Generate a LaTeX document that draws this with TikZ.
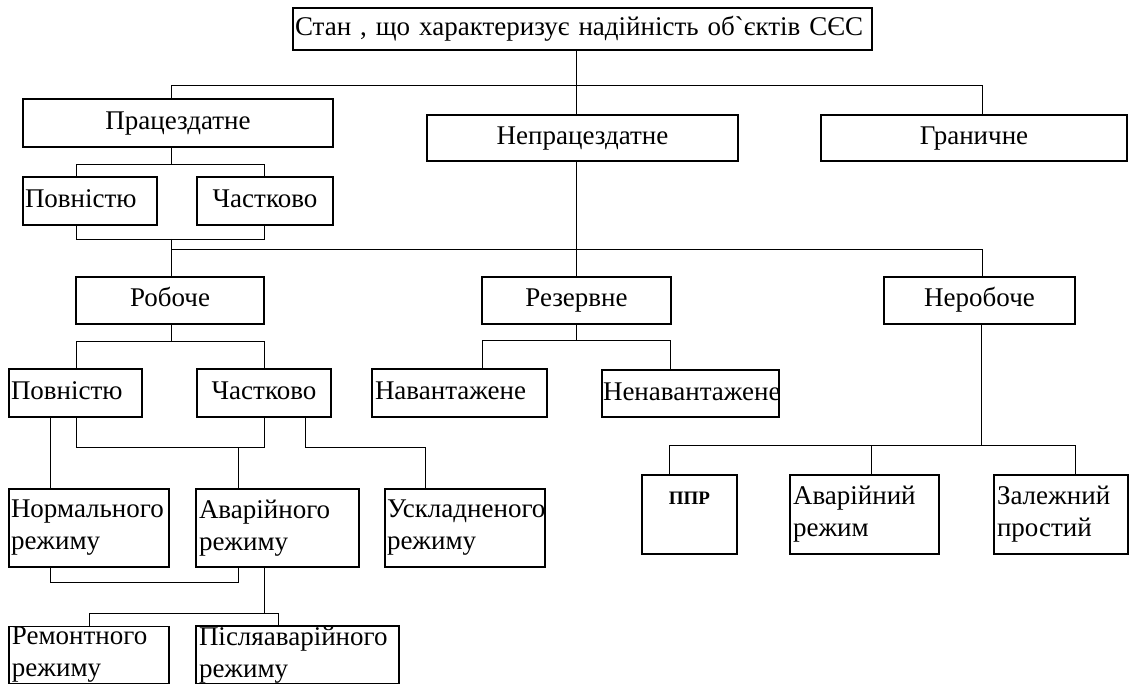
\documentclass[tikz,border=0pt]{standalone}
\usepackage{fontspec}
\setmainfont{Liberation Serif}
\usepackage{tikz}

\tikzset{
  box/.style={draw, line width=1.5pt, inner xsep=3pt, inner ysep=3pt, outer sep=0pt,
    font=\fontsize{27}{32}\selectfont},
  oneline/.style={box, text height=19pt, text depth=6pt},
  conn/.style={line width=0.9pt},
}

\begin{document}
\begin{tikzpicture}[x=1pt,y=1pt,yscale=-1,xscale=1]
\useasboundingbox (0,0) rectangle (1129,684);
% boxes
\node[oneline, minimum width=579, minimum height=42, text width=575, inner xsep=2pt, align=left] (top) at (582.5,29) {Стан , що характеризує надійність об\textasciigrave єктів СЄС};
\node[oneline, minimum width=310, minimum height=48] (prac) at (178,123) {Працездатне};
\node[oneline, minimum width=311, minimum height=46] (neprac) at (582.5,138) {Непрацездатне};
\node[oneline, minimum width=306, minimum height=46] (gran) at (974,138) {Граничне};
\node[oneline, minimum height=48, text width=130, inner xsep=2pt, align=left] (pv1) at (90,201) {Повністю};
\node[oneline, minimum width=136, minimum height=48] (ch1) at (265,201) {Частково};
\node[oneline, minimum width=188, minimum height=47] (rob) at (170,300.5) {Робоче};
\node[oneline, minimum width=189, minimum height=47] (rez) at (576.5,300.5) {Резервне};
\node[oneline, minimum width=191, minimum height=47] (nerob) at (979.5,300.5) {Неробоче};
\node[oneline, minimum height=48, text width=129, inner xsep=2pt, align=left] (pv2) at (75.5,393) {Повністю};
\node[oneline, minimum width=134, minimum height=48] (ch2) at (264,393) {Частково};
\node[oneline, minimum height=48, text width=169, align=left] (nav) at (459.5,393) {Навантажене};
\node[oneline, minimum height=47, text width=175, inner xsep=1pt, align=left] (nenav) at (690.5,393.5) {Ненавантажене};
\node[box, minimum height=78, text width=156, inner xsep=2pt, align=left] (norm) at (89,528) {Нормального\\режиму};
\node[box, minimum height=78, text width=157, align=left] (avar) at (277.5,528) {Аварійного\\режиму};
\node[box, minimum height=78, text width=156, inner xsep=2pt, align=left] (uskl) at (465,528) {Ускладненого\\режиму};
\node[box, minimum height=54, text width=154, inner ysep=1pt, align=left] (rem) at (89,655) {Ремонтного\\режиму};
\node[box, minimum height=54, text width=197, inner ysep=1pt, align=left] (pisl) at (297.5,655) {Післяаварійного\\режиму};
\node[box, minimum width=95, minimum height=79, text height=26pt, text depth=47pt,
  font=\fontsize{19}{22}\selectfont\bfseries] (ppr) at (689.5,514.5) {ППР};
\node[box, minimum height=79, text width=143, align=left] (avr) at (864.5,514.5) {Аварійний\\режим};
\node[box, minimum height=79, text width=128, align=left] (zal) at (1061,514.5) {Залежний\\простий};
% junctions
\coordinate (a1) at (171,85);
\coordinate (a2) at (982,85);
\coordinate (a3) at (576,249);
\coordinate (b1) at (171,164);
\coordinate (b2) at (76,164);
\coordinate (b3) at (264,164);
\coordinate (c1) at (171,239);
\coordinate (c2) at (76,239);
\coordinate (c3) at (264,239);
\coordinate (d1) at (171,249);
\coordinate (d2) at (982,249);
\coordinate (e1) at (171,341);
\coordinate (e2) at (76,341);
\coordinate (e3) at (264,341);
\coordinate (f1) at (576,340);
\coordinate (f2) at (482,340);
\coordinate (f3) at (670,340);
\coordinate (g1) at (76,447);
\coordinate (g2) at (264,447);
\coordinate (g3) at (238,447);
\coordinate (g4) at (50,582);
\coordinate (g5) at (238,582);
\coordinate (h1) at (305,447);
\coordinate (h2) at (425,447);
\coordinate (i1) at (264,613);
\coordinate (i2) at (89,613);
\coordinate (i3) at (278,613);
\coordinate (k1) at (981,445);
\coordinate (k2) at (669,445);
\coordinate (k3) at (871,445);
\coordinate (k4) at (1075,445);
% connectors
\draw[conn] (prac.north -| a1) -- (a1) -- (a2) -- (gran.north -| a2);
\draw[conn] (top.south -| a3) -- (neprac.north -| a3);
\draw[conn] (neprac.south -| a3) -- (a3);
\draw[conn] (prac.south -| b1) -- (b1);
\draw[conn] (pv1.north -| b2) -- (b2) -- (b3) -- (ch1.north -| b3);
\draw[conn] (pv1.south -| c2) -- (c2) -- (c3) -- (ch1.south -| c3);
\draw[conn] (c1) -- (d1);
\draw[conn] (rob.north -| d1) -- (d1) -- (d2) -- (nerob.north -| d2);
\draw[conn] (rez.north -| a3) -- (a3);
\draw[conn] (rob.south -| e1) -- (e1);
\draw[conn] (pv2.north -| e2) -- (e2) -- (e3) -- (ch2.north -| e3);
\draw[conn] (rez.south -| f1) -- (f1);
\draw[conn] (nav.north -| f2) -- (f2) -- (f3) -- (nenav.north -| f3);
\draw[conn] (pv2.south -| g1) -- (g1) -- (g2) -- (ch2.south -| g2);
\draw[conn] (g3) -- (avar.north -| g3);
\draw[conn] (pv2.south -| g4) -- (norm.north -| g4);
\draw[conn] (norm.south -| g4) -- (g4) -- (g5) -- (avar.south -| g5);
\draw[conn] (ch2.south -| h1) -- (h1) -- (h2) -- (uskl.north -| h2);
\draw[conn] (avar.south -| i1) -- (i1);
\draw[conn] (rem.north -| i2) -- (i2) -- (i3) -- (pisl.north -| i3);
\draw[conn] (nerob.south -| k1) -- (k1);
\draw[conn] (ppr.north -| k2) -- (k2) -- (k4) -- (zal.north -| k4);
\draw[conn] (k3) -- (avr.north -| k3);
\end{tikzpicture}
\end{document}
